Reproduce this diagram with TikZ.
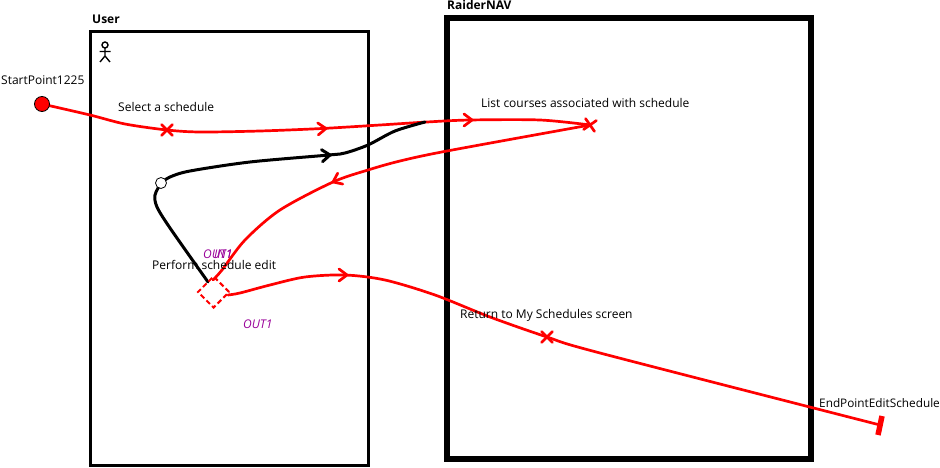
\documentclass[tikz,border=0pt]{standalone}
\usepackage{fontspec}
\setmainfont{Open Sans}
\usetikzlibrary{shapes.geometric,calc}
\definecolor{outc}{RGB}{153,0,153}
\tikzset{
  lbl/.style={inner sep=0pt,font=\fontsize{12}{14}\selectfont,text=black},
  bold lbl/.style={lbl,font=\fontsize{12}{14}\selectfont\bfseries},
  outlbl/.style={inner sep=0pt,font=\fontsize{12}{14}\selectfont\itshape,text=outc},
  redpath/.style={draw=red,line width=2.7pt,line cap=round,line join=round},
  blackpath/.style={draw=black,line width=3pt,line cap=round,line join=round},
  pt/.style={inner sep=0pt,minimum size=0pt},
  boxnode/.style={draw=black,inner sep=0pt,outer sep=0pt,anchor=center},
}
\newcommand{\chev}[4]{% colour, at, angle, width
  \draw[#1,line width=#4,line cap=round,line join=round,shift={(#2)},rotate=#3] (-8,-6) -- (0,0) -- (-8,6);}
\newcommand{\xmark}[2]{%
  \draw[red,line width=2.7pt,line cap=round,shift={(#1)},rotate=#2] (-5.5,-5.5) -- (5.5,5.5) (-5.5,5.5) -- (5.5,-5.5);}
\begin{document}
\begin{tikzpicture}[x=1pt,y=-1pt]
\useasboundingbox (0,0) rectangle (940,468);
% labels that lie beneath the connectors
\node[outlbl,anchor=base west] (o1) at (203,258) {OUT1};
\node[outlbl,anchor=base west] (o2) at (214,258) {IN1};
\node[outlbl,anchor=base west] (o3) at (243,328) {OUT1};
% boxes
\node[boxnode,line width=2.7pt,minimum width=278pt,minimum height=434.2pt] (user) at (229.3,248.4) {};
\node[boxnode,line width=6pt,minimum width=364pt,minimum height=440pt] (nav) at (629,238.5) {};
\node[bold lbl,anchor=base west] (userlbl) at (92,24) {User};
\node[bold lbl,anchor=base west] (navlbl) at (447,10) {RaiderNAV};
% actor
\draw[black,line width=1.4pt] (105,45) circle (3);
\draw[black,line width=1.4pt] (105,48) -- (105,56) (99.5,51.5) -- (110.5,51.5) (100,62) -- (105,56) -- (110,62);
% waypoints
\node[pt] (resp1) at (167,130) {};
\node[pt] (resp2) at (590,125) {};
\node[pt] (resp3) at (547,337) {};
\node[pt] (endp) at (880,425) {};
% red paths
\draw[redpath] plot[smooth,tension=0.5] coordinates {(42,104) (90,115) (125,124) (167,130) (200,132) (260,131) (322,128.5) (380,125) (427,122) (470,120) (540,120) (590,125)};
\draw[redpath] plot[smooth,tension=0.5] coordinates {(590,125) (447,151) (400,161) (368,170) (333,182) (280,210) (245,240) (222,270) (213,280)};
\draw[redpath] plot[smooth,tension=0.5] coordinates {(228,295) (240,293) (270,285) (305,277) (345,275) (385,280) (435,295) (490,317) (547,337) (600,353) (880,425)};
% black paths
\draw[blackpath] plot[smooth,tension=0.5] coordinates {(425,122) (395,131) (368,145) (345,153) (329,155) (250,162) (190,171) (170,177) (161,183)};
\draw[blackpath] plot[smooth,tension=0.5] coordinates {(161,183) (155,195) (157,207) (170,228) (208,282)};
% marks
\chev{red}{326,128.5}{3}{2.7pt}
\chev{red}{472,120}{0}{2.7pt}
\chev{red}{347,275}{0}{2.7pt}
\chev{red}{333,182}{205}{2.7pt}
\chev{black}{330,155}{5}{3pt}
\xmark{resp1}{0}
\xmark{resp3}{0}
\xmark{resp2}{-10}
% end bar
\draw[red,line width=5.5pt] ($(endp)+(2,-9)$) -- ($(endp)+(-2,10)$);
% decision
\node[draw=red,dash pattern=on 5pt off 3pt,line width=2pt,diamond,inner sep=0pt,minimum size=32pt,fill=none] (dec) at (213.5,292) {};
% start and junction
\node[circle,draw=black,fill=red,line width=0.8pt,inner sep=0pt,minimum size=15pt] (start) at (42,104) {};
\node[circle,draw=black,fill=white,line width=0.8pt,inner sep=0pt,minimum size=11pt] (junc) at (161,183) {};
% labels
\node[lbl,anchor=base west] (l1) at (1,85) {StartPoint1225};
\node[lbl,anchor=base west] (l2) at (118,112) {Select a schedule};
\node[lbl,anchor=base west] (l3) at (481,108) {List courses associated with schedule};
\node[lbl,anchor=base west] (l4) at (152,269) {Perform schedule edit};
\node[lbl,anchor=base west] (l5) at (460,318) {Return to My Schedules screen};
\node[lbl,anchor=base west,font=\fontsize{11.8}{14}\selectfont] (l6) at (819,407) {EndPointEditSchedule};
\end{tikzpicture}
\end{document}
